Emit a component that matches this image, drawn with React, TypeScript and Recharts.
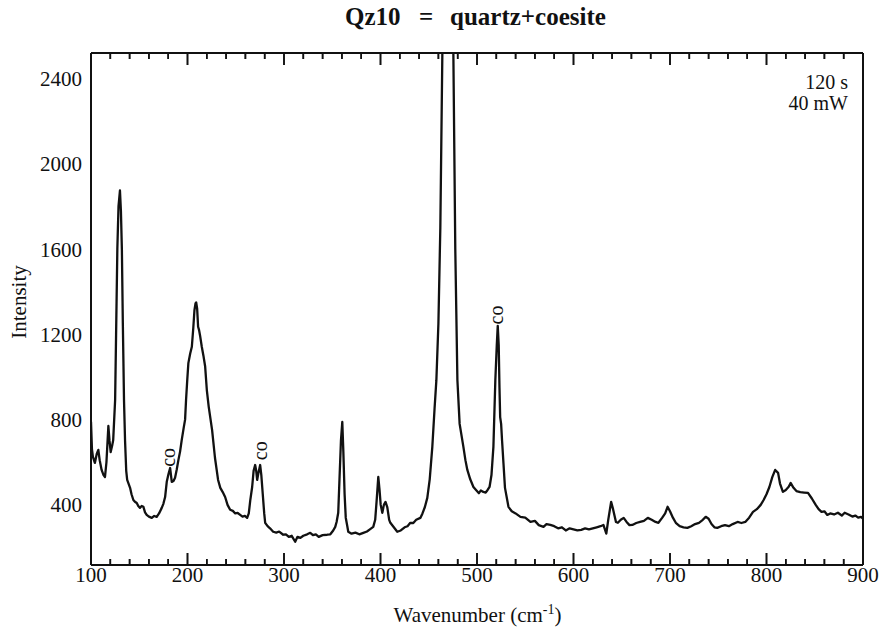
import React from 'react';
import { ComposedChart, Line, XAxis, YAxis, ReferenceDot } from 'recharts';

// Raman spectrum: wavenumber (cm-1) and intensity
const wavenumbers = [
  100, 101, 102, 104, 106, 107.6, 109, 111, 113, 114.5,
  116, 118, 119.2, 120.4, 122, 123, 125, 126, 127.3, 128.5,
  130, 131, 132, 133, 134.2, 135.3, 136.5, 137.5, 140.5, 142,
  143.9, 145.5, 147.4, 149, 150.8, 152.5, 154.3, 156, 157.7, 160,
  163, 165.5, 168.1, 170.5, 173.3, 175, 176.8, 178.5, 180.3, 182,
  183.7, 185.5, 187.1, 188.8, 190.6, 192.3, 194, 196, 197.5, 198.5,
  199.8, 200.9, 202.8, 204.5, 206, 207.2, 208.3, 209, 210, 211,
  212, 213, 214.8, 216.5, 218.3, 220, 222, 225.5, 228.5, 231.7,
  234, 236.5, 239, 241.5, 244.2, 247, 249.5, 252, 254.6, 257,
  259.5, 261.8, 263.5, 265, 267, 268.5, 270.1, 271.2, 272.2, 273.5,
  275.3, 276.5, 278, 279.5, 280.5, 283, 285.5, 288.8, 292, 295,
  299.2, 302, 305, 308, 311.6, 314, 317, 320, 324, 327.2,
  330, 333, 336, 340, 344.8, 348, 351, 353.1, 354.5, 356.2,
  357.5, 359, 360.4, 361.5, 362.8, 364, 365.6, 366.6, 370, 374,
  378, 382.2, 386, 389, 392.5, 394.5, 396, 397.7, 399, 400.2,
  401.9, 403.5, 405.2, 407, 409, 410.2, 413, 417.4, 421, 425,
  428, 430.9, 434, 437, 441.3, 443.5, 446, 448.5, 451, 453.7,
  456, 457.9, 460, 462, 464.1, 466, 469.8, 473.5, 475.5, 477.5,
  479.7, 482, 485.9, 488, 490, 493, 496.3, 499, 502, 504,
  506.6, 509, 511, 513, 515, 517, 519, 520.5, 521.5, 522.5,
  523.3, 524, 525, 526, 527.4, 529, 532.6, 536, 540, 545,
  550, 555.4, 560, 564, 568.9, 572, 576, 580, 584, 588,
  592, 596, 600, 604, 608, 612, 616, 620, 624, 628,
  631, 634, 636, 639, 641, 644, 646, 649, 652, 655,
  658, 661, 665, 669, 673, 677, 681, 685, 688, 692,
  695, 697.5, 700, 703, 706, 710, 714, 718, 722, 726,
  730, 734, 737, 740, 743, 746, 749, 753, 757, 761,
  765, 770, 774, 778, 782, 786, 790, 794, 797, 800,
  803, 806, 809, 812, 814, 817, 820, 823, 825, 828,
  831, 835, 839, 843, 847, 851, 854, 857, 860, 863,
  866, 870, 874, 878, 881, 885, 889, 892, 895, 898,
  900,
];

const intensities = [
  790, 660, 625, 597, 640, 658, 610, 564, 540, 531,
  600, 770, 700, 648, 680, 704, 892, 1200, 1600, 1800,
  1875, 1780, 1600, 1250, 892, 700, 560, 517, 480, 450,
  423, 415, 409, 395, 386, 395, 391, 365, 353, 345,
  339, 348, 344, 360, 386, 405, 437, 508, 545, 573,
  508, 512, 527, 565, 611, 650, 704, 760, 800, 892,
  990, 1065, 1110, 1142, 1230, 1313, 1345, 1350, 1320, 1236,
  1220, 1195, 1142, 1100, 1049, 940, 860, 751, 620, 517,
  480, 460, 437, 400, 377, 372, 360, 362, 353, 345,
  348, 339, 360, 420, 484, 560, 587, 560, 517, 550,
  587, 540, 450, 360, 316, 300, 290, 274, 270, 275,
  260, 262, 250, 255, 227, 250, 245, 255, 262, 269,
  258, 262, 250, 258, 260, 262, 280, 297, 320, 363,
  520, 700, 789, 650, 450, 340, 300, 274, 265, 270,
  262, 269, 275, 285, 297, 330, 420, 531, 470, 400,
  363, 400, 414, 390, 330, 316, 300, 274, 280, 295,
  300, 316, 315, 330, 339, 360, 390, 433, 520, 672,
  850, 985, 1250, 1700, 2520, 3300, 4200, 3300, 2520, 1600,
  985, 780, 672, 610, 564, 520, 484, 470, 455, 468,
  461, 458, 470, 484, 540, 672, 985, 1150, 1240, 1150,
  950, 812, 780, 700, 597, 480, 391, 370, 360, 344,
  340, 320, 325, 305, 297, 310, 306, 300, 290, 295,
  280, 290, 285, 280, 283, 290, 285, 290, 295, 300,
  306, 265, 330, 414, 380, 320, 316, 330, 339, 320,
  305, 306, 315, 320, 325, 339, 330, 320, 316, 340,
  360, 391, 370, 340, 316, 300, 295, 292, 300, 310,
  316, 330, 344, 335, 310, 295, 292, 300, 305, 300,
  310, 320, 315, 320, 340, 367, 380, 400, 423, 450,
  484, 530, 564, 550, 500, 461, 470, 485, 503, 480,
  465, 460, 458, 456, 430, 400, 380, 367, 370, 353,
  360, 355, 363, 350, 363, 355, 345, 350, 340, 344,
  335,
];

// x ticks every 20 cm-1; labelled (long) ticks every 100
const xTicks = [
  100, 120, 140, 160, 180, 200, 220, 240, 260, 280, 300, 320, 340, 360, 380,
  400, 420, 440, 460, 480, 500, 520, 540, 560, 580, 600, 620, 640, 660, 680,
  700, 720, 740, 760, 780, 800, 820, 840, 860, 880, 900,
];
const yTicks = [400, 800, 1200, 1600, 2000, 2400];
const xDomain = [100, 900];
const yDomain = [118, 2520];

// "co" (coesite) annotations: label centre in data units
const coLabelW = [182.2, 277.9, 521.8];
const coLabelI = [623, 654, 1291];

const data = wavenumbers.map((w, i) => ({ w, v: intensities[i] }));

const CHART_W = 880;
const CHART_H = 627;
const TOP_AXIS_H = 20;
const X_AXIS_H = 30;
const Y_AXIS_W = 91;
const MARGIN = { top: 53 - TOP_AXIS_H, right: 17, bottom: 32, left: 0 };
const PLOT_LEFT = MARGIN.left + Y_AXIS_W;
const PLOT_RIGHT = CHART_W - MARGIN.right;
const PLOT_TOP = MARGIN.top + TOP_AXIS_H;
const PLOT_BOTTOM = CHART_H - MARGIN.bottom - X_AXIS_H;

const FONT = '"Liberation Serif", "Times New Roman", Times, serif';
const INK = '#111';

const isMajor = (v: number) => v % 100 === 0;
const isEdge = (v: number) => v === xDomain[0] || v === xDomain[1];
const tickLen = (v: number) => (isMajor(v) ? 12 : 6);

const BottomTick = (props: any) => {
  const { x, y, payload } = props;
  const v = payload.value;
  return (
    <g>
      {!isEdge(v) && (
        <path d={`M${x},${y}V${y - tickLen(v)}`} stroke={INK} strokeWidth={1.6} fill="none" />
      )}
      {isMajor(v) && (
        <text x={x} y={y + 2} dy="0.71em" textAnchor="middle" fontSize={21} fontFamily={FONT} fill={INK}>
          {v}
        </text>
      )}
    </g>
  );
};

const TopTick = (props: any) => {
  const { x, y, payload } = props;
  const v = payload.value;
  if (isEdge(v)) return <g />;
  return <path d={`M${x},${y}V${y + tickLen(v)}`} stroke={INK} strokeWidth={1.6} fill="none" />;
};

const CoLabel = (props: any) => {
  const { cx, cy } = props;
  return (
    <g transform={`translate(${cx},${cy}) rotate(-90)`}>
      <text x={0} y={4.5} textAnchor="middle" fontSize={20} fontFamily={FONT} fill={INK}>
        co
      </text>
    </g>
  );
};

// frame ticks in the overlay, placed with the same linear mapping as the x axis
const frameX = (v: number) =>
  PLOT_LEFT + ((v - xDomain[0]) / (xDomain[1] - xDomain[0])) * (PLOT_RIGHT - PLOT_LEFT);

export default function App() {
  const frameTicks = xTicks.filter((v) => !isEdge(v));
  return (
    <div style={{ position: 'relative', width: CHART_W, height: CHART_H, background: '#fff', fontFamily: FONT }}>
      <style>{`html,body{margin:0;padding:0;overflow:hidden;background:#fff}`}</style>
      <ComposedChart width={CHART_W} height={CHART_H} data={data} margin={MARGIN}>
        <XAxis
          xAxisId="main"
          dataKey="w"
          type="number"
          domain={xDomain}
          allowDataOverflow
          ticks={xTicks}
          interval={0}
          height={X_AXIS_H}
          tickSize={0}
          tickMargin={0}
          tickLine={false}
          axisLine={{ stroke: INK, strokeWidth: 2 }}
          tick={<BottomTick />}
        />
        <XAxis
          xAxisId="top"
          dataKey="w"
          type="number"
          orientation="top"
          domain={xDomain}
          allowDataOverflow
          ticks={xTicks}
          interval={0}
          height={TOP_AXIS_H}
          tickSize={0}
          tickMargin={0}
          tickLine={false}
          axisLine={{ stroke: INK, strokeWidth: 2 }}
          tick={<TopTick />}
        />
        <YAxis
          yAxisId="main"
          type="number"
          domain={yDomain}
          allowDataOverflow
          ticks={yTicks}
          interval={0}
          width={Y_AXIS_W}
          tickSize={0}
          tickMargin={9}
          tickLine={false}
          axisLine={{ stroke: INK, strokeWidth: 2 }}
          tick={{ fill: INK, fontSize: 21, fontFamily: FONT }}
        />
        <YAxis
          yAxisId="right"
          orientation="right"
          mirror
          type="number"
          domain={yDomain}
          allowDataOverflow
          tick={false}
          tickLine={false}
          axisLine={{ stroke: INK, strokeWidth: 2 }}
        />
        <Line
          xAxisId="top"
          yAxisId="right"
          dataKey="v"
          stroke="none"
          dot={false}
          activeDot={false}
          legendType="none"
          isAnimationActive={false}
        />
        <Line
          xAxisId="main"
          yAxisId="main"
          dataKey="v"
          type="linear"
          stroke={INK}
          strokeWidth={2.3}
          strokeLinejoin="round"
          dot={false}
          activeDot={false}
          isAnimationActive={false}
        />
        {coLabelW.map((w, i) => (
          <ReferenceDot
            key={`co${i}`}
            xAxisId="main"
            yAxisId="main"
            x={w}
            y={coLabelI[i]}
            r={1}
            shape={<CoLabel />}
          />
        ))}
      </ComposedChart>
      <svg
        width={CHART_W}
        height={CHART_H}
        style={{ position: 'absolute', left: 0, top: 0, pointerEvents: 'none' }}
        fontFamily={FONT}
      >
        <g stroke={INK} strokeWidth={1.6} fill="none">
          {frameTicks.map((v) => (
            <path key={`fb${v}`} d={`M${frameX(v)},${PLOT_BOTTOM}V${PLOT_BOTTOM - tickLen(v)}`} />
          ))}
          {frameTicks.map((v) => (
            <path key={`ft${v}`} d={`M${frameX(v)},${PLOT_TOP}V${PLOT_TOP + tickLen(v)}`} />
          ))}
        </g>
        <g fill={INK}>
          <text x={345} y={25} fontSize={25} fontWeight="bold">Qz10</text>
          <text x={426} y={25} fontSize={25} fontWeight="bold" textAnchor="middle">=</text>
          <text x={450} y={25} fontSize={25} fontWeight="bold">quartz+coesite</text>
          <g transform="translate(26,302) rotate(-90)">
            <text x={0} y={0} fontSize={21} textAnchor="middle">Intensity</text>
          </g>
          <text x={477.5} y={622} fontSize={21} textAnchor="middle">
            Wavenumber (cm
            <tspan fontSize={14} dy={-8}>-1</tspan>
            <tspan dy={8}>)</tspan>
          </text>
          <text x={848} y={89} fontSize={20} textAnchor="end">120 s</text>
          <text x={848} y={110} fontSize={20} textAnchor="end">40 mW</text>
        </g>
      </svg>
    </div>
  );
}
